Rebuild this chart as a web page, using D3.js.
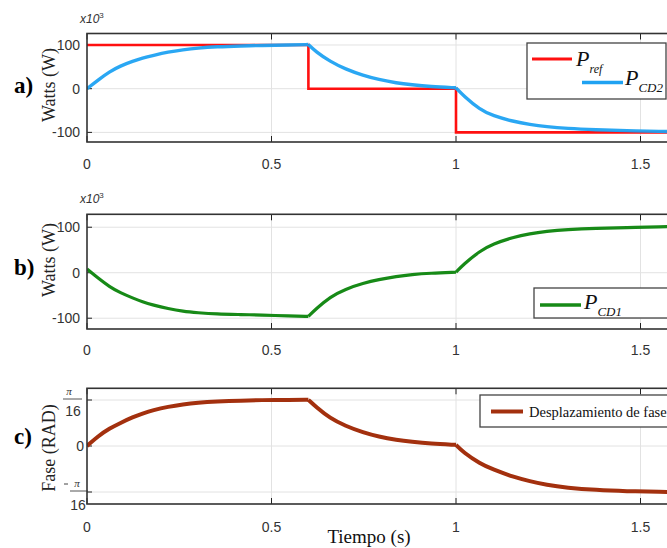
<!DOCTYPE html>
<html>
<head>
<meta charset="utf-8">
<script src="https://cdn.jsdelivr.net/npm/d3@7"></script>
<style>
  html, body { margin: 0; padding: 0; background: #fff; }
  svg { display: block; }
</style>
</head>
<body>
<script>
// ---------------- DATA ----------------
const time = [0, 0.03, 0.061, 0.09, 0.125, 0.15, 0.179, 0.22, 0.26, 0.3, 0.35, 0.42, 0.47, 0.55, 0.6,
              0.62, 0.659, 0.7, 0.749, 0.79, 0.839, 0.88, 0.93, 1.0,
              1.02, 1.065, 1.1, 1.155, 1.2, 1.245, 1.3, 1.38, 1.46, 1.56, 1.6];
// P_CD2 (x10^3 W)
const pcd2 = [0, 20, 39, 52, 63, 70, 76, 84, 89, 93, 96, 98, 99, 100, 101,
              85, 62, 45, 30, 21, 13, 9, 5, 2,
              -16, -48, -62, -75, -82, -87, -91, -94, -96, -98, -98];
// P_CD1 (x10^3 W)
const pcd1 = [8, -12, -31, -44, -56, -64, -71, -79, -85, -88, -91, -92, -93, -95, -96,
              -80, -53, -36, -23, -15, -8, -4, -1, 1,
              18, 48, 63, 78, 86, 91, 95, 98, 99, 101, 102];
// Phase shift (rad)
const phase = [0, 0.042, 0.075, 0.098, 0.124, 0.138, 0.153, 0.168, 0.178, 0.185, 0.190, 0.194, 0.196, 0.197, 0.197,
               0.168, 0.118, 0.086, 0.057, 0.040, 0.026, 0.018, 0.010, 0.005,
               -0.027, -0.075, -0.100, -0.132, -0.150, -0.166, -0.178, -0.188, -0.193, -0.196, -0.196];
// P_ref step (x10^3 W)
const prefTime  = [0, 0.6, 0.6, 1.0, 1.0, 1.6];
const prefValue = [100, 100, 0, 0, -100, -100];
const breakTimes = [0.6, 1.0];

const xTicks = [0, 0.5, 1, 1.5];
const xTickLabels = ["0", "0.5", "1", "1.5"];
const wattTicks = [-100, 0, 100];
const wattTickLabels = ["-100", "0", "100"];
const phaseTicks = [-Math.PI / 16, 0, Math.PI / 16];

// ---------------- LAYOUT ----------------
const W = 667, H = 548;
const svg = d3.select("body").append("svg").attr("width", W).attr("height", H);
const x = d3.scaleLinear().domain([0, 1.6]).range([87, 87 + 369 * 1.6]);

const tickFont = "'Liberation Sans Narrow', 'Arial Narrow', 'Liberation Sans', Arial, sans-serif";
const serif = "'Liberation Serif', 'Times New Roman', serif";

const panels = [
  { id: "a", top: 33.5, bottom: 142, domain: [-122, 126.3], label: "a)", labelY: 93, ylabel: "Watts (W)", ylabelY: 85, xlabY: 168.5, exp: 23 },
  { id: "b", top: 214.3, bottom: 329, domain: [-123.7, 128.4], label: "b)", labelY: 275, ylabel: "Watts (W)", ylabelY: 260, xlabY: 355, exp: 203 },
  { id: "c", top: 388.3, bottom: 504, domain: [-0.2475, 0.2463], label: "c)", labelY: 444, ylabel: "Fase (RAD)", ylabelY: 448, xlabY: 532 }
];

function segments(ts, vs) {
  const pts = ts.map((t, i) => [t, vs[i]]);
  const segs = [];
  let cur = [];
  pts.forEach(p => {
    cur.push(p);
    if (breakTimes.includes(p[0])) { segs.push(cur); cur = [p]; }
  });
  if (cur.length > 1) segs.push(cur);
  return segs;
}

panels.forEach(p => {
  const y = d3.scaleLinear().domain(p.domain).range([p.bottom, p.top]);
  const g = svg.append("g");
  const x0 = x.range()[0], x1 = x.range()[1];

  g.append("clipPath").attr("id", "clip-" + p.id)
    .append("rect").attr("x", x0).attr("y", p.top).attr("width", x1 - x0).attr("height", p.bottom - p.top);

  const yt = p.id === "c" ? phaseTicks : wattTicks;
  g.selectAll(".gx").data(xTicks.slice(1)).join("line")
    .attr("x1", d => x(d)).attr("x2", d => x(d)).attr("y1", p.top).attr("y2", p.bottom)
    .attr("stroke", "#e2e2e2").attr("stroke-width", 1);
  g.selectAll(".gy").data(yt).join("line")
    .attr("x1", x0).attr("x2", x1).attr("y1", d => y(d)).attr("y2", d => y(d))
    .attr("stroke", "#e2e2e2").attr("stroke-width", 1);

  g.selectAll(".tb").data(xTicks).join("line")
    .attr("x1", d => x(d)).attr("x2", d => x(d)).attr("y1", p.bottom).attr("y2", p.bottom - 6)
    .attr("stroke", "#222").attr("stroke-width", 1);
  g.selectAll(".tt").data(xTicks).join("line")
    .attr("x1", d => x(d)).attr("x2", d => x(d)).attr("y1", p.top).attr("y2", p.top + 6)
    .attr("stroke", "#222").attr("stroke-width", 1);
  g.selectAll(".ty").data(yt).join("line")
    .attr("x1", x0).attr("x2", x0 + 5).attr("y1", d => y(d)).attr("y2", d => y(d))
    .attr("stroke", "#222").attr("stroke-width", 1);

  g.selectAll(".xl").data(xTicks).join("text")
    .attr("x", d => x(d)).attr("y", p.xlabY)
    .attr("text-anchor", "middle").attr("font-family", tickFont).attr("font-size", 14)
    .attr("fill", "#333")
    .text((d, i) => xTickLabels[i]);

  if (p.id !== "c") {
    g.selectAll(".yl").data(wattTicks).join("text")
      .attr("x", 80).attr("y", d => y(d) + 5)
      .attr("text-anchor", "end").attr("font-family", tickFont).attr("font-size", 14)
      .attr("fill", "#333")
      .text((d, i) => wattTickLabels[i]);
    const e = g.append("text").attr("x", 80).attr("y", p.exp)
      .attr("font-family", tickFont).attr("font-size", 12).attr("fill", "#333").attr("font-style", "italic");
    e.append("tspan").text("x10");
    e.append("tspan").attr("dy", -5).attr("font-size", 8).attr("font-style", "normal").text("3");
  } else {
    const cx = 73;
    const yp = y(Math.PI / 16), ym = y(-Math.PI / 16);
    g.append("text").attr("x", cx - 4).attr("y", yp - 5).attr("text-anchor", "middle")
      .attr("font-family", serif).attr("font-style", "italic").attr("font-size", 11).attr("fill", "#333").text("π");
    g.append("line").attr("x1", cx - 10).attr("x2", cx + 9).attr("y1", yp - 1).attr("y2", yp - 1).attr("stroke", "#555").attr("stroke-width", 1);
    g.append("text").attr("x", cx).attr("y", yp + 16).attr("text-anchor", "middle")
      .attr("font-family", tickFont).attr("font-size", 14).attr("fill", "#333").text("16");
    g.append("text").attr("x", 84).attr("y", y(0) + 5).attr("text-anchor", "end")
      .attr("font-family", tickFont).attr("font-size", 14).attr("fill", "#333").text("0");
    g.append("line").attr("x1", cx - 9).attr("x2", cx - 5).attr("y1", ym - 8).attr("y2", ym - 8).attr("stroke", "#444").attr("stroke-width", 1);
    g.append("text").attr("x", cx + 4).attr("y", ym - 5).attr("text-anchor", "middle")
      .attr("font-family", serif).attr("font-style", "italic").attr("font-size", 11).attr("fill", "#333").text("π");
    g.append("line").attr("x1", cx - 3).attr("x2", cx + 15).attr("y1", ym - 1).attr("y2", ym - 1).attr("stroke", "#555").attr("stroke-width", 1);
    g.append("text").attr("x", cx + 5).attr("y", ym + 18).attr("text-anchor", "middle")
      .attr("font-family", tickFont).attr("font-size", 14).attr("fill", "#333").text("16");
  }

  g.append("text").attr("x", 14).attr("y", p.labelY)
    .attr("font-family", serif).attr("font-weight", "bold").attr("font-size", 23).attr("fill", "#000").text(p.label);
  g.append("text").attr("transform", `translate(55,${p.ylabelY}) rotate(-90)`)
    .attr("text-anchor", "middle").attr("font-family", serif).attr("font-size", 18).attr("fill", "#222").text(p.ylabel);

  const plot = g.append("g").attr("clip-path", `url(#clip-${p.id})`);
  const smooth = d3.line().x(d => x(d[0])).y(d => y(d[1])).curve(d3.curveBasis);
  const straight = d3.line().x(d => x(d[0])).y(d => y(d[1]));

  if (p.id === "a") {
    plot.append("path").attr("d", straight(prefTime.map((t, i) => [t, prefValue[i]])))
      .attr("fill", "none").attr("stroke", "#ff1010").attr("stroke-width", 2.6);
    segments(time, pcd2).forEach(s => plot.append("path").attr("d", smooth(s))
      .attr("fill", "none").attr("stroke", "#1fa2f2").attr("stroke-width", 3.4).attr("stroke-opacity", 0.95));
  } else if (p.id === "b") {
    segments(time, pcd1).forEach(s => plot.append("path").attr("d", smooth(s))
      .attr("fill", "none").attr("stroke", "#178a17").attr("stroke-width", 3.2));
  } else {
    segments(time, phase).forEach(s => plot.append("path").attr("d", smooth(s))
      .attr("fill", "none").attr("stroke", "#a3300e").attr("stroke-width", 4));
  }

  g.append("rect").attr("x", x0).attr("y", p.top).attr("width", x1 - x0).attr("height", p.bottom - p.top)
    .attr("fill", "none").attr("stroke", "#333").attr("stroke-width", 1.6);
});

// ---------------- LEGENDS ----------------
function legendBox(x0, y0, w, h) {
  svg.append("rect").attr("x", x0).attr("y", y0).attr("width", w).attr("height", h)
    .attr("fill", "#fff").attr("stroke", "#444").attr("stroke-width", 1.3);
}
function pLabel(xp, yb, sub, subSize) {
  const t = svg.append("text").attr("x", xp).attr("y", yb)
    .attr("font-family", serif).attr("font-style", "italic").attr("font-size", 22).attr("fill", "#111");
  t.append("tspan").text("P");
  t.append("tspan").attr("dy", 7).attr("font-size", subSize).text(sub);
}
legendBox(527, 43, 139, 56);
svg.append("line").attr("x1", 532).attr("x2", 572).attr("y1", 59).attr("y2", 59).attr("stroke", "#ff1010").attr("stroke-width", 3);
pLabel(576, 66, "ref", 12);
svg.append("line").attr("x1", 582).attr("x2", 623).attr("y1", 82.5).attr("y2", 82.5).attr("stroke", "#1fa2f2").attr("stroke-width", 3.5);
pLabel(625, 85, "CD2", 13);
legendBox(534, 288, 150, 30);
svg.append("line").attr("x1", 540).attr("x2", 581).attr("y1", 305).attr("y2", 305).attr("stroke", "#178a17").attr("stroke-width", 3.5);
pLabel(584, 309, "CD1", 13);
legendBox(480, 395, 200, 32);
svg.append("line").attr("x1", 491).attr("x2", 523).attr("y1", 411.5).attr("y2", 411.5).attr("stroke", "#a3300e").attr("stroke-width", 4);
svg.append("text").attr("x", 529).attr("y", 416.5).attr("font-family", serif).attr("font-size", 14.5).attr("fill", "#111")
  .text("Desplazamiento de fase");

svg.append("text").attr("x", 369).attr("y", 543).attr("text-anchor", "middle")
  .attr("font-family", serif).attr("font-size", 19).attr("fill", "#111").text("Tiempo (s)");
</script>
</body>
</html>
